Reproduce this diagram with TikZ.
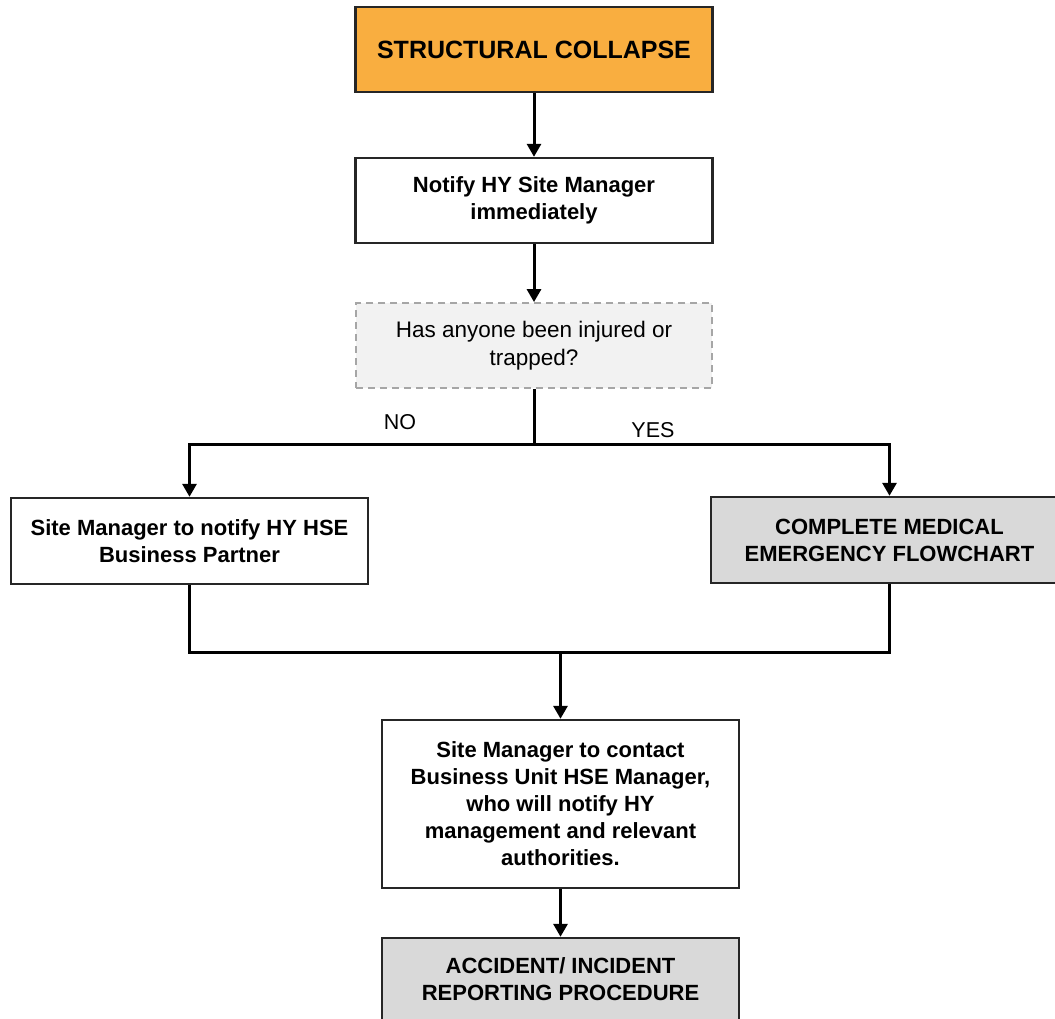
\documentclass[tikz,border=0pt]{standalone}
\usepackage{fontspec}
\setmainfont{Liberation Sans}
\usetikzlibrary{arrows.meta,calc}
\definecolor{alarm}{HTML}{F9AE40}
\definecolor{refbox}{HTML}{D9D9D9}
\definecolor{askbox}{HTML}{F2F2F2}
\definecolor{askline}{HTML}{A6A6A6}
\tikzset{
  stepbox/.style={draw=black!85, line width=2.4pt, minimum width=357pt,
    minimum height=85pt, inner sep=0pt, align=center,
    font=\fontsize{22}{27}\selectfont\bfseries},
  askstyle/.style={draw=askline, fill=askbox, line width=1.8pt,
    dash pattern=on 7pt off 5pt, minimum width=356pt, minimum height=85pt,
    inner sep=0pt, align=center, font=\fontsize{22.5}{28}\selectfont},
  flow/.style={line width=3pt, -{Triangle[length=13pt,width=14pt]}},
  joinline/.style={line width=3pt},
  tag/.style={font=\fontsize{21.5}{24}\selectfont, inner sep=0pt}
}
\begin{document}
\begin{tikzpicture}[x=1pt,y=-1pt]
\useasboundingbox (0,0) rectangle (1055,1018);
\clip (0,0) rectangle (1055,1018);
\fill[white] (0,0) rectangle (1055,1018);

% boxes
\node[stepbox, fill=alarm, font=\fontsize{25}{28}\selectfont\bfseries] (start) at (534,49.5) {STRUCTURAL COLLAPSE};
\node[stepbox, fill=white] (notify) at (534,200.5) {Notify HY Site Manager\\immediately};
\node[askstyle] (ask) at (534,345.5) {Has anyone been injured or\\trapped?};
\node[stepbox, fill=white, minimum height=86pt] (partner) at (189.5,541) {Site Manager to notify HY HSE\\Business Partner};
\node[stepbox, fill=refbox, minimum height=86pt] (medical) at (889.5,540) {COMPLETE MEDICAL\\EMERGENCY FLOWCHART};
\node[stepbox, fill=white, minimum height=168pt] (contact) at (560.5,804) {Site Manager to contact\\Business Unit HSE Manager,\\who will notify HY\\management and relevant\\authorities.};
\node[stepbox, fill=refbox, minimum height=82pt] (report) at (560.5,979) {ACCIDENT/ INCIDENT\\REPORTING PROCEDURE};

% branch labels
\node[tag] (no) at (400,422) {NO};
\node[tag] (yes) at (653,430) {YES};

% junction points
\coordinate (split) at (534,444);
\coordinate (merge) at (560.5,652);

% connectors
\draw[flow] (start) -- (notify);
\draw[flow] (notify) -- (ask);
\draw[joinline] (ask.south) -- (split);
\draw[flow] (split) -| (partner.north);
\draw[flow] (split) -| (medical.north);
\draw[joinline] (partner.south) |- (merge) -| (medical.south);
\draw[flow] (merge) -- (contact.north);
\draw[flow] (contact) -- (report);
\end{tikzpicture}
\end{document}
